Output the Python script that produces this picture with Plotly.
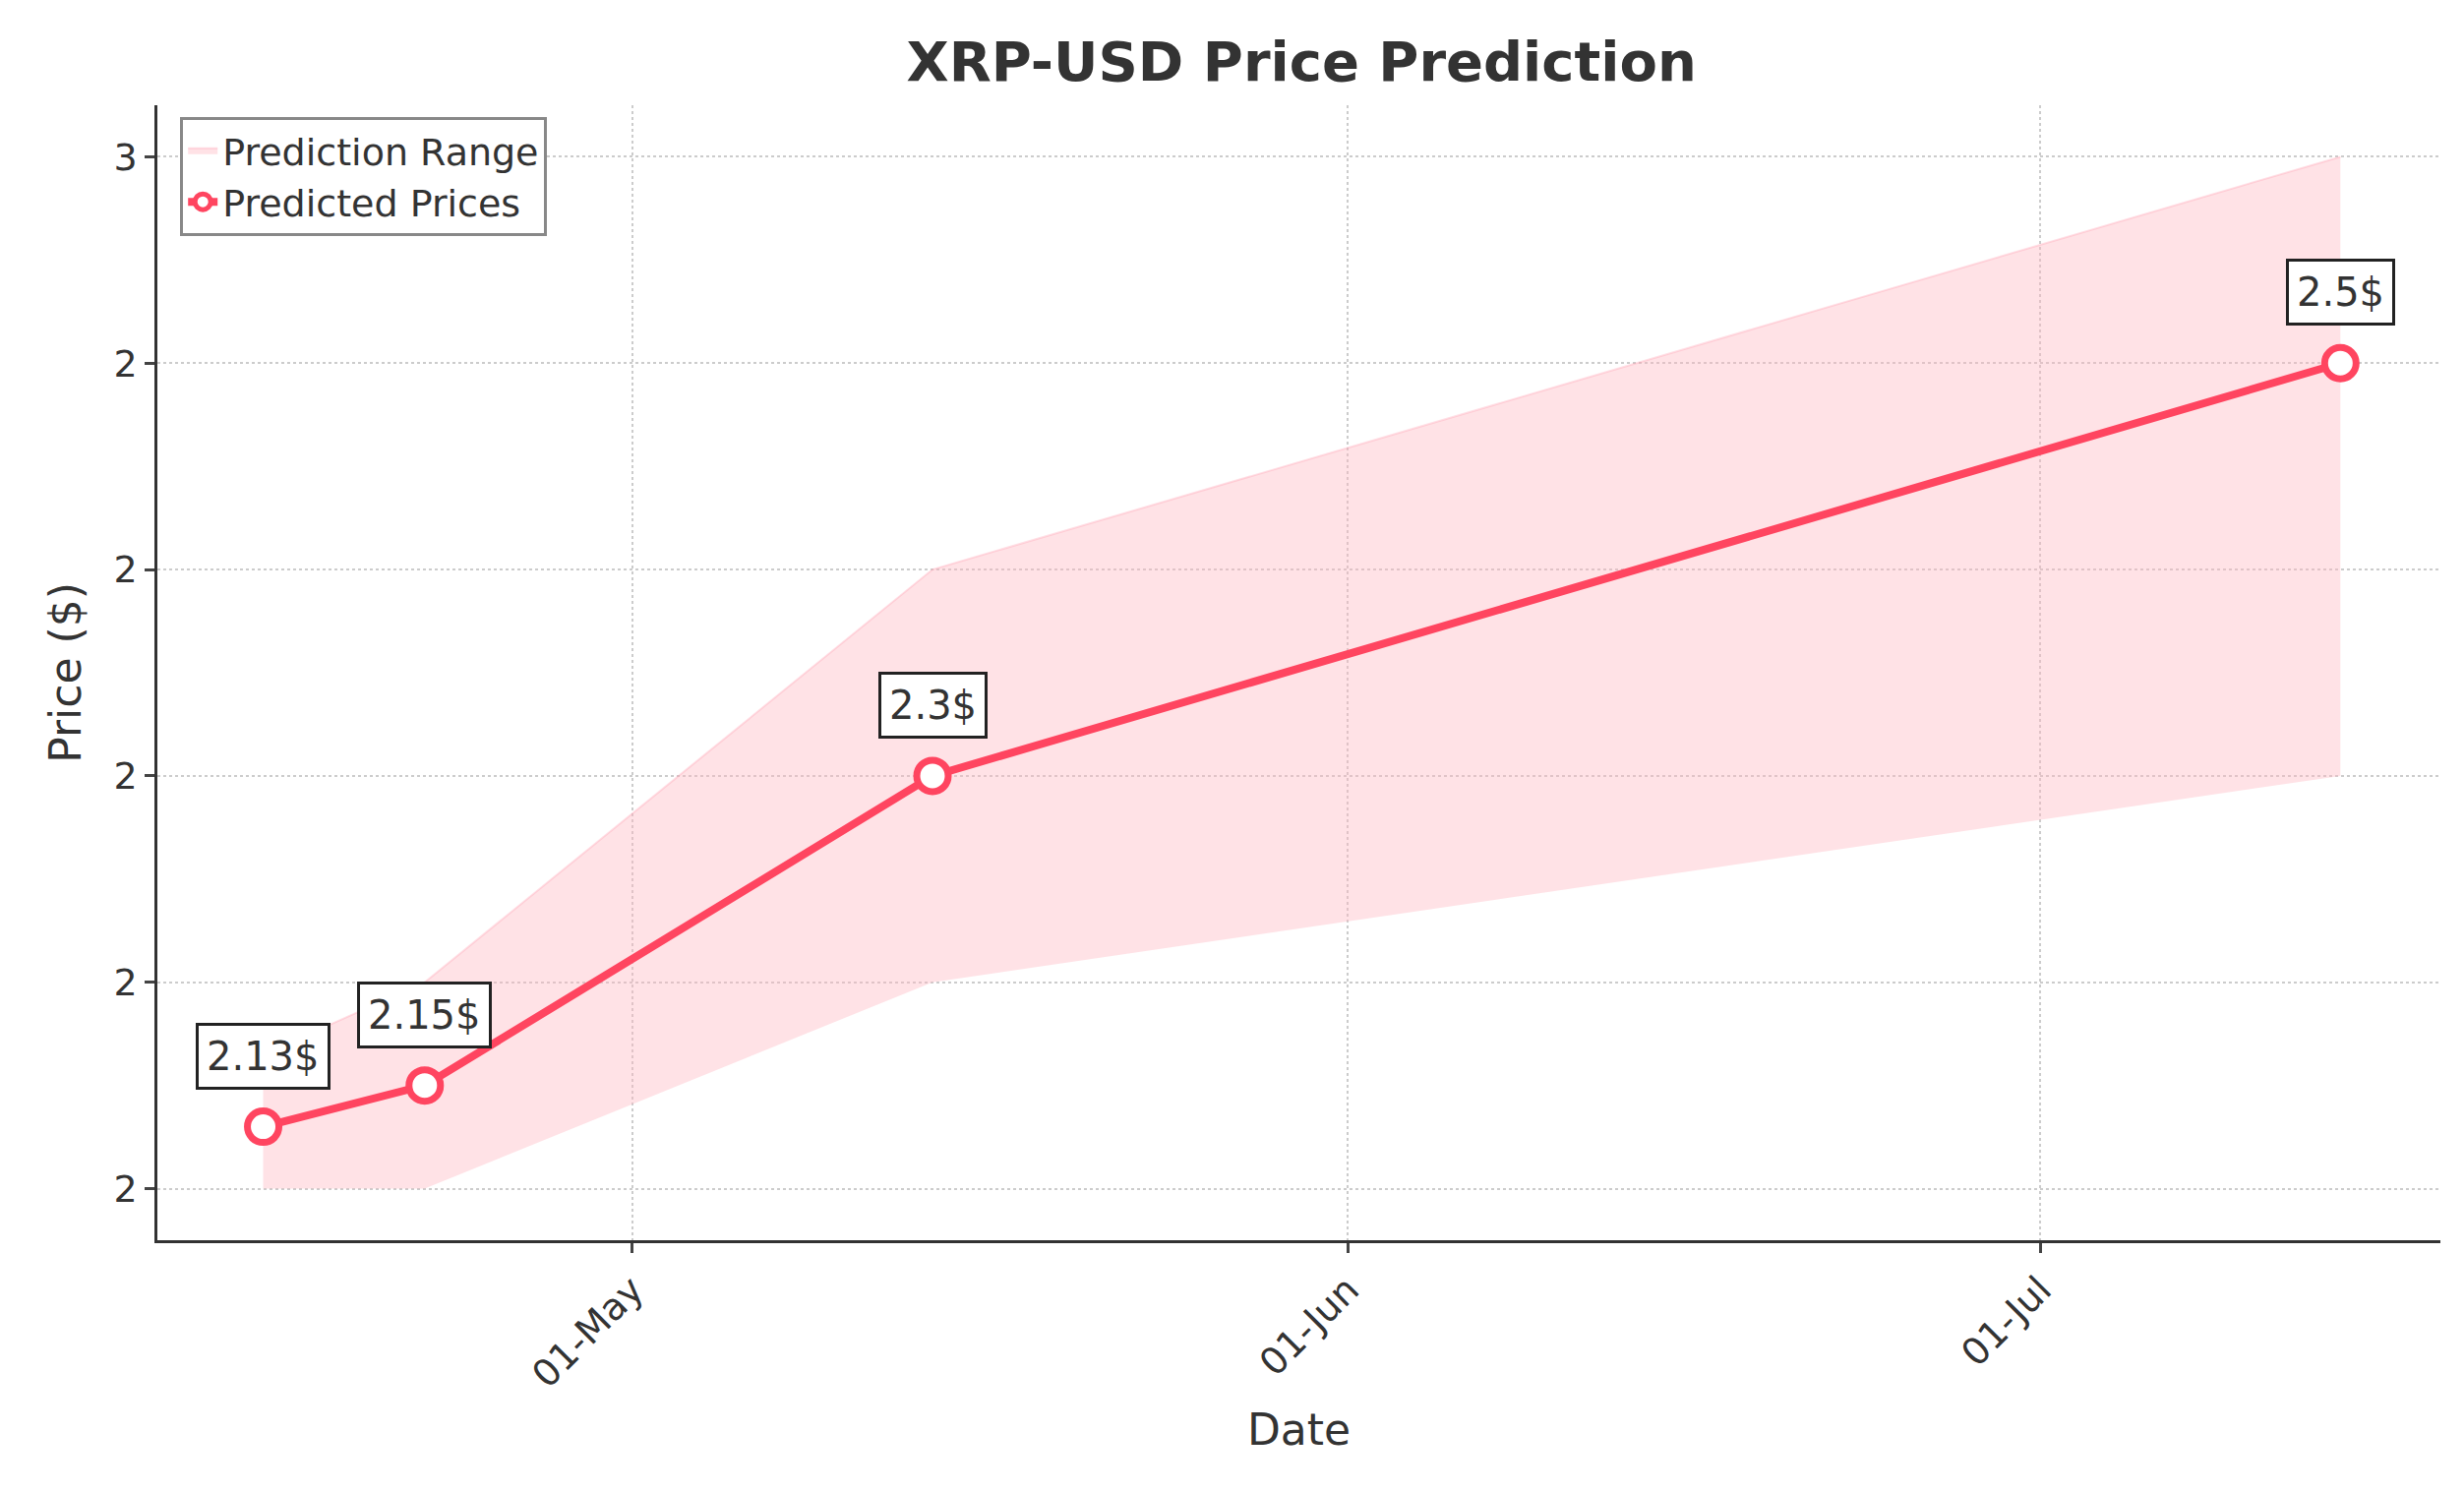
import plotly.graph_objects as go

dates = ['2025-04-15', '2025-04-22', '2025-05-14', '2025-07-14']
predicted = [2.13, 2.15, 2.3, 2.5]
lower = [2.1, 2.1, 2.2, 2.3]
upper = [2.165, 2.2, 2.4, 2.6]
labels = ['2.13$', '2.15$', '2.3$', '2.5$']
ytick_vals = [2.1, 2.2, 2.3, 2.4, 2.5, 2.6]
ytick_text = ['2', '2', '2', '2', '2', '3']
xtick_vals = ['2025-05-01', '2025-06-01', '2025-07-01']
xtick_text = ['01-May', '01-Jun', '01-Jul']

line_col = '#ff4560'
font = 'DejaVu Sans'

fig = go.Figure()
fig.add_trace(go.Scatter(x=dates, y=lower, mode='lines', line=dict(width=0), showlegend=False, hoverinfo='skip'))
fig.add_trace(go.Scatter(x=dates, y=upper, mode='lines', fill='tonexty', legendrank=2,
                         fillcolor='rgba(255,182,193,0.4)', line=dict(color='rgba(255,150,170,0.3)', width=2),
                         name='Prediction Range'))
fig.add_trace(go.Scatter(x=dates, y=predicted, mode='lines+markers', name='Predicted Prices', legendrank=1,
                         line=dict(color=line_col, width=8),
                         marker=dict(size=32, color='white', line=dict(color=line_col, width=7))))

for d, p, t in zip(dates, predicted, labels):
    fig.add_annotation(x=d, y=p, text=t, showarrow=False, yshift=72,
                       font=dict(size=40, color='#333333', family=font),
                       bgcolor='white', bordercolor='#222222', borderwidth=3, borderpad=8)

fig.update_layout(
    width=2505, height=1517, plot_bgcolor='white', paper_bgcolor='white',
    margin=dict(l=152, r=32, t=99, b=264),
    font=dict(family=font, size=38, color='#333333'),
    title=dict(text='<b>XRP-USD Price Prediction</b>', x=0.525, xanchor='center', y=0.977,
               font=dict(size=56, color='#333333')),
    legend=dict(x=0.01, y=0.99, xanchor='left', yanchor='top', bgcolor='white',
                bordercolor='#888888', borderwidth=3, font=dict(size=38)),
    showlegend=True,
)
fig.update_xaxes(range=['2025-04-10 10:00', '2025-07-18 08:00'], tickvals=xtick_vals, ticktext=xtick_text,
                 tickangle=-45, showgrid=True, gridcolor='#cccccc', griddash='dot', gridwidth=2,
                 showline=True, linecolor='#333333', linewidth=2.5, ticks='outside', ticklen=10, tickwidth=2.5,
                 title=dict(text='Date', font=dict(size=44), standoff=20), zeroline=False)
fig.update_yaxes(range=[2.075, 2.625], tickvals=ytick_vals, ticktext=ytick_text,
                 showgrid=True, gridcolor='#cccccc', griddash='dot', gridwidth=2,
                 showline=True, linecolor='#333333', linewidth=2.5, ticks='outside', ticklen=10, tickwidth=2.5,
                 title=dict(text='Price ($)', font=dict(size=44), standoff=20), zeroline=False)

fig.write_html('out.html')
